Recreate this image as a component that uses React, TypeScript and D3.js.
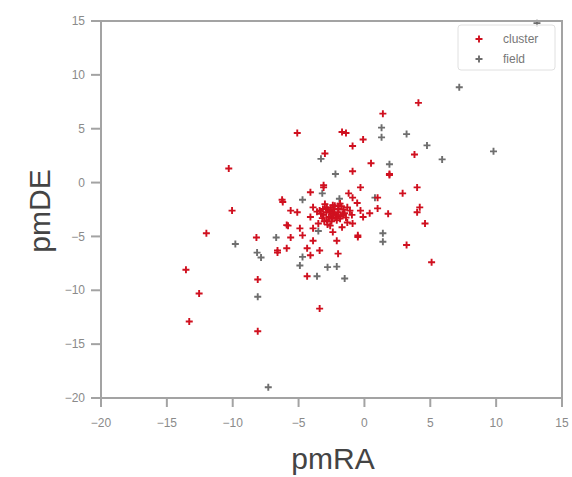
import React from "react";
import * as d3 from "d3";

const clusterRA = [
  4.1, 1.4, -1.7, -1.4, -0.1, -0.9, -3.0, -5.1, -10.3, 0.5, 3.8, -0.9, 1.9, 4.0, 2.9, -3.1, -0.3, 4.2, -6.25, -4.1,
  -10.05, -12.0, -8.2, -13.55, -8.1, -12.55, -13.3, -8.1, -5.8, -6.6, -4.35, -3.4, 1.8, 4.0, 4.6, 3.2, 5.1, -0.5, -2.0,
  -3.1, -6.2, -0.9, 1.0, 1.9, -5.6, -5.1, -3.9, 0.4, -0.3, -5.9, -4.9, -3.9, -5.6, -4.7, -3.9, -2.4, -2.1, -0.5, -6.6,
  -5.9, -4.35, -3.4, -4.1, 1.0, -1.2,
  -3.4, -2.85, -2.4, -1.85, -1.3, -3.1, -2.45, -2.0, -1.5, -0.95, -2.85, -2.1, -1.3, -0.9, -3.5, -2.6, -1.7, -4.1, -0.55,
  -0.1, -2.3, -2.7, -1.8, -2.2, -3.0, -2.5, -1.6, -3.2, -2.0, -1.1,
  -2.6, -2.35, -1.95, -2.75, -3.3, -1.65, -2.15, -2.9, -2.45, -1.85, -3.05, -2.55, -2.05, -1.4, -3.6, -2.25, -2.8, -1.75,
  -2.4, -3.15,
];
const clusterDE = [
  7.4, 6.4, 4.7, 4.6, 4.0, 3.4, 2.7, 4.6, 1.3, 1.8, 2.6, 1.05, 0.8, -0.45, -1.0, -0.45, -0.45, -2.3, -1.6, -0.9,
  -2.6, -4.7, -5.1, -8.1, -9.0, -10.3, -12.9, -13.8, -4.0, -6.5, -8.7, -11.7, -2.9, -2.75, -3.8, -5.8, -7.4, -5.05, -6.6,
  -0.25, -1.8, -1.4, -1.4, 0.7, -2.6, -2.75, -2.3, -2.85, -2.6, -3.95, -4.25, -4.25, -5.1, -4.9, -5.4, -4.6, -5.4, -4.9, -6.3,
  -6.1, -6.1, -6.3, -6.75, -2.4, -1.0,
  -2.6, -2.3, -2.1, -1.95, -2.3, -3.0, -2.85, -2.75, -2.85, -3.0, -3.5, -3.5, -3.7, -3.8, -3.8, -4.0, -4.15, -3.2, -1.9,
  -3.2, -2.5, -3.2, -3.1, -3.0, -2.0, -3.6, -2.5, -3.3, -2.2, -2.6,
  -2.7, -2.9, -2.45, -2.55, -2.9, -2.95, -3.25, -2.75, -3.35, -3.35, -3.6, -2.35, -3.05, -3.25, -2.7, -2.15, -3.9, -2.2,
  -3.05, -2.45,
];

const fieldRA = [
  13.1, 7.2, 9.8, 3.2, 4.75, 5.9, 1.3, 1.3, 1.9, -2.2, -3.3, -3.2, -4.7, 0.8, -9.8, -8.15, -7.85, -8.1, -6.7, -4.7,
  -4.9, -3.6, 1.4, 1.4, -2.8, -2.1, -1.5, -7.3, -1.9, -3.5,
];
const fieldDE = [
  14.8, 8.85, 2.9, 4.5, 3.45, 2.15, 5.1, 4.2, 1.7, 0.8, 2.2, -1.0, -1.6, -1.4, -5.7, -6.5, -6.95, -10.6, -5.1, -6.9,
  -7.7, -8.7, -4.7, -5.5, -7.85, -7.8, -8.9, -19.0, -1.5, -4.5,
];

const xTicks = [-20, -15, -10, -5, 0, 5, 10, 15];
const yTicks = [-20, -15, -10, -5, 0, 5, 10, 15];
const legendLabels = ["cluster", "field"];

const W = 572;
const H = 477;
const left = 101, right = 562, top = 21, bottom = 398;
const axisColor = "#a3a3a3";
const tickText = "#8a8a8a";
const clusterColor = "#d0101f";
const fieldColor = "#6e6e6e";
const font = "'Liberation Sans', Arial, sans-serif";

function fmt(v: number) {
  return v < 0 ? "\u2212" + Math.abs(v) : String(v);
}

function Plus({ x, y, color, s = 3.5 }: { x: number; y: number; color: string; s?: number }) {
  return (
    <path
      d={`M${x - s},${y}H${x + s}M${x},${y - s}V${y + s}`}
      stroke={color}
      strokeWidth={1.9}
      fill="none"
    />
  );
}

export default function App() {
  const x = d3.scaleLinear().domain([-20, 15]).range([left, right]);
  const y = d3.scaleLinear().domain([-20, 15]).range([bottom, top]);

  return (
    <svg width={W} height={H} style={{ position: "absolute", left: 0, top: 0, background: "#fff" }}>
      {fieldRA.map((v, i) => (
        <Plus key={"f" + i} x={x(v)} y={y(fieldDE[i])} color={fieldColor} />
      ))}
      {clusterRA.map((v, i) => (
        <Plus key={"c" + i} x={x(v)} y={y(clusterDE[i])} color={clusterColor} />
      ))}

      <rect x={left} y={top} width={right - left} height={bottom - top} fill="none" stroke={axisColor} strokeWidth={2} />

      {xTicks.map((t) => (
        <g key={"xt" + t}>
          <line x1={x(t)} x2={x(t)} y1={bottom} y2={bottom + 9} stroke={axisColor} strokeWidth={2} />
          <text x={x(t)} y={bottom + 29} textAnchor="middle" fontSize={12} fill={tickText} fontFamily={font}>
            {fmt(t)}
          </text>
        </g>
      ))}
      {yTicks.map((t) => (
        <g key={"yt" + t}>
          <line x1={left - 10} x2={left} y1={y(t)} y2={y(t)} stroke={axisColor} strokeWidth={2} />
          <text x={left - 16} y={y(t)} dy="0.35em" textAnchor="end" fontSize={12} fill={tickText} fontFamily={font}>
            {fmt(t)}
          </text>
        </g>
      ))}

      <text x={333} y={469} textAnchor="middle" fontSize={30} fill="#444" fontFamily={font}>
        pmRA
      </text>
      <text
        transform={`translate(50,${211}) rotate(-90)`}
        textAnchor="middle"
        fontSize={30}
        fill="#444"
        fontFamily={font}
      >
        pmDE
      </text>

      <rect x={458} y={25} width={97} height={45} rx={3} fill="#fff" fillOpacity={0.8} stroke="#e0e0e0" strokeWidth={1} />
      {legendLabels.map((lab, i) => (
        <g key={lab}>
          <Plus x={479} y={39 + i * 20} color={i === 0 ? clusterColor : fieldColor} />
          <text x={503} y={39 + i * 20} dy="0.35em" fontSize={12} fill="#777" fontFamily={font}>
            {lab}
          </text>
        </g>
      ))}
    </svg>
  );
}
